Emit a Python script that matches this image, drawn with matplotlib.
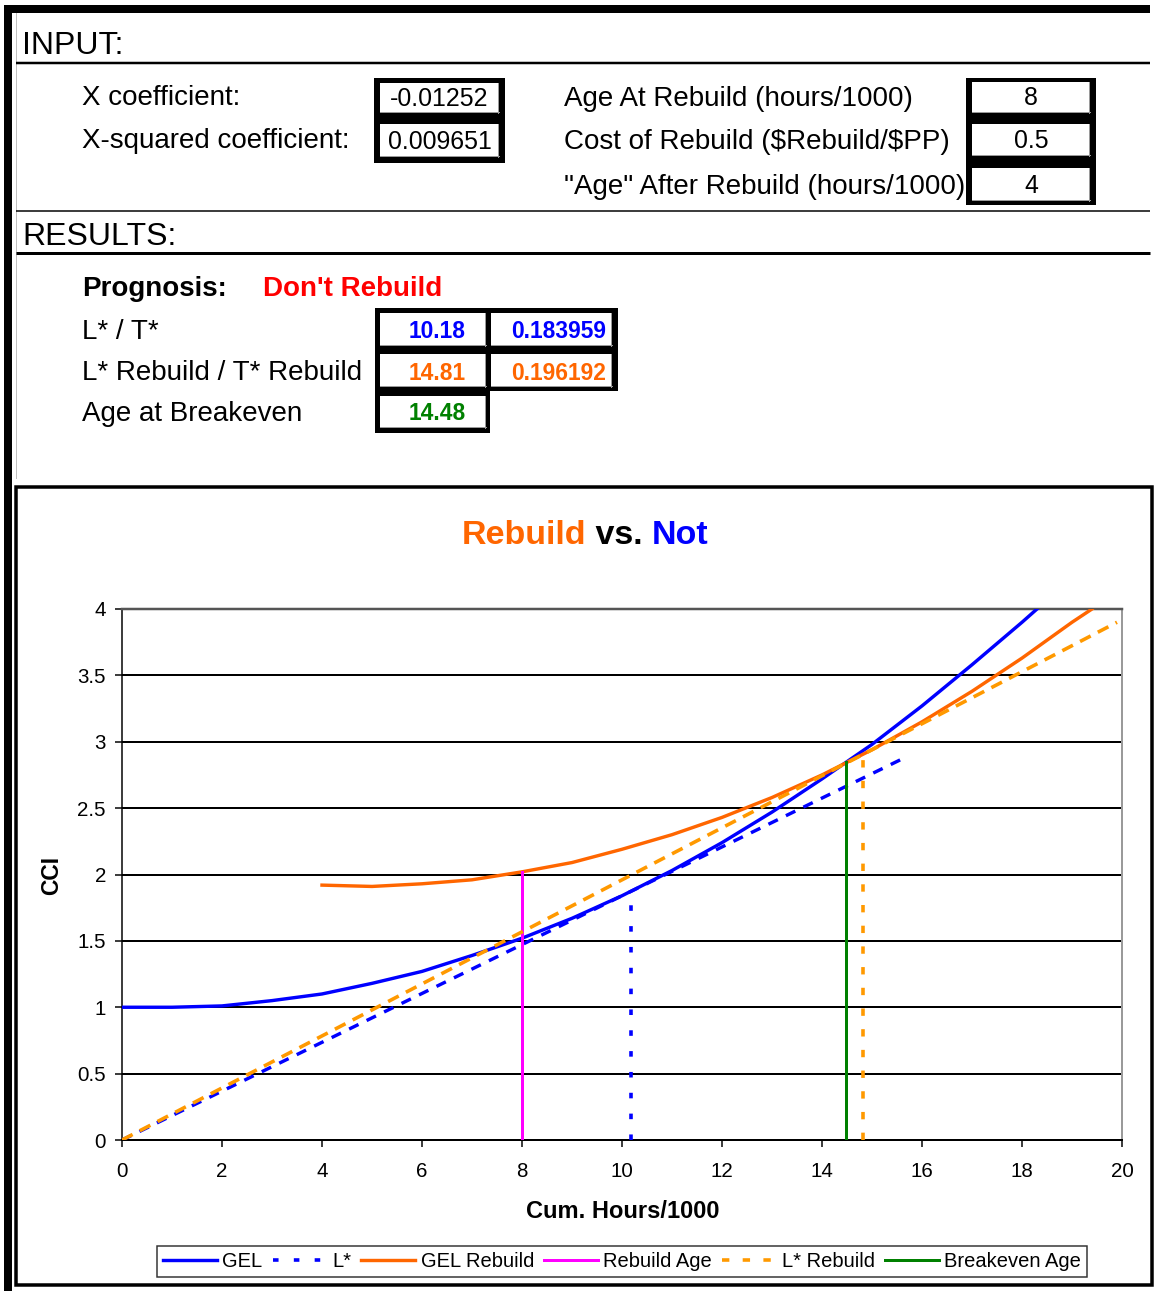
import matplotlib
matplotlib.use("Agg")
import matplotlib.pyplot as plt
from matplotlib.patches import Rectangle

plt.rcParams['font.family'] = ['Liberation Sans', 'DejaVu Sans']
plt.rcParams['lines.scale_dashes'] = False
plt.rcParams['text.parse_math'] = False

W, H = 1154, 1292
PX = 0.72  # points per pixel at dpi=100

# ---- spreadsheet values ----
input_left_labels = ["X coefficient:", "X-squared coefficient:"]
input_left_values = ["-0.01252", "0.009651"]
input_right_labels = ["Age At Rebuild (hours/1000)", "Cost of Rebuild ($Rebuild/$PP)",
                      '"Age" After Rebuild (hours/1000)']
input_right_values = ["8", "0.5", "4"]

prognosis = "Don't Rebuild"
result_labels = ["L* / T*", "L* Rebuild / T* Rebuild", "Age at Breakeven"]
result_l = ["10.18", "14.81", "14.48"]
result_t = ["0.183959", "0.196192", None]
result_colors = ['#0000FF', '#FF6600', '#008000']

# ---- chart series ----
gel_x = [0, 1, 2, 3, 4, 5, 6, 7, 8, 9, 10, 11, 12, 13, 14, 15, 16, 17, 18, 18.3]
gel_y = [1.00, 1.00, 1.01, 1.05, 1.10, 1.18, 1.27, 1.39, 1.52, 1.67, 1.84, 2.03,
         2.24, 2.47, 2.72, 2.98, 3.27, 3.58, 3.90, 4.00]

lstar_x = [0, 15.6]
lstar_y = [0, 2.87]

gelr_x = [4, 5, 6, 7, 8, 9, 10, 11, 12, 13, 14, 15, 16, 17, 18, 19, 19.4]
gelr_y = [1.92, 1.91, 1.93, 1.96, 2.02, 2.09, 2.19, 2.30, 2.43, 2.58, 2.75, 2.94,
          3.15, 3.38, 3.63, 3.90, 4.00]

lstar_r_x = [0, 19.9]
lstar_r_y = [0, 3.90]

rebuild_age, rebuild_top = 8, 2.02
lstar_age, lstar_top = 10.18, 1.87
breakeven_age, breakeven_top = 14.48, 2.85
lstar_r_age, lstar_r_top = 14.81, 2.90

fig = plt.figure(figsize=(W / 100, H / 100), dpi=100)
bg = fig.add_axes([0, 0, 1, 1])
bg.set_xlim(0, W)
bg.set_ylim(H, 0)
bg.axis('off')


def box(x, y, w, h, color='black'):
    bg.add_patch(Rectangle((x, y), w, h, facecolor=color, edgecolor='none'))


def hline(y, x0, x1, lw, color='black'):
    bg.plot([x0, x1], [y, y], color=color, lw=lw * PX, solid_capstyle='butt')


def cell(x, y, w, h):
    box(x, y, w, h, 'white')
    bg.plot([x + w - 1, x + w - 1], [y, y + h], color='#9a9a9a', lw=1 * PX)
    bg.plot([x, x + w], [y + h - 1, y + h - 1], color='#9a9a9a', lw=1 * PX)


# outer sheet borders
box(4, 5, 1146, 8)
box(4, 5, 8, 1286)
bg.plot([16, 16], [13, 478], color='#c0c0c0', lw=1 * PX)
hline(63, 16, 1150, 2.5)
hline(211, 16, 1150, 1.5)
hline(253, 16, 1150, 3)

bg.text(22, 46, "INPUT:", fontsize=23, va='center')
bg.text(22, 237, "RESULTS:", fontsize=23, va='center')

# input block
left_rows = [97, 140]
for lab, yy in zip(input_left_labels, left_rows):
    bg.text(82, yy + 1, lab, fontsize=20, va='center')
box(374, 78, 131, 85)
cell(380, 83, 119, 30)
cell(380, 124, 119, 33)
for val, yy in zip(input_left_values, left_rows):
    bg.text(439.5, yy + 2, val, fontsize=17.9, ha='center', va='center')

right_rows = [96, 139, 184]
for lab, yy in zip(input_right_labels, right_rows):
    bg.text(564, yy + 3, lab, fontsize=20, va='center')
box(966, 78, 130, 127)
cell(972, 82, 118, 31)
cell(972, 124, 118, 32)
cell(972, 168, 118, 33)
for val, yy in zip(input_right_values, right_rows):
    bg.text(1031, yy + 2, val, fontsize=17.9, ha='center', va='center')

# results block
bg.text(82, 289, "Prognosis:", fontsize=20, fontweight='bold', va='center')
bg.text(263, 289, prognosis, fontsize=20, fontweight='bold', color='#FF0000', va='center')
res_rows = [330, 371, 412]
for lab, yy in zip(result_labels, res_rows):
    bg.text(82, yy + 2, lab, fontsize=20, va='center')
box(375, 308, 243, 83)
box(375, 390, 115, 43)
cell(380, 313, 106, 33)
cell(491, 313, 121, 33)
cell(380, 354, 106, 33)
cell(491, 354, 121, 33)
cell(380, 396, 106, 32)
for lv, tv, col, yy in zip(result_l, result_t, result_colors, res_rows):
    bg.text(466, yy + 2, lv, fontsize=16.4, fontweight='bold', color=col, ha='right', va='center')
    if tv is not None:
        bg.text(606, yy + 2, tv, fontsize=16.4, fontweight='bold', color=col, ha='right', va='center')

# chart frame
bg.add_patch(Rectangle((15.5, 486.5), 1136, 798.5, facecolor='none',
                       edgecolor='black', lw=3.5 * PX))

# ---- chart ----
ax = fig.add_axes([122 / W, 1 - 1140 / H, 1000 / W, 531 / H])
ax.set_xlim(0, 20)
ax.set_ylim(0, 4)
ax.set_xticks(range(0, 21, 2))
yt = [0, 0.5, 1, 1.5, 2, 2.5, 3, 3.5, 4]
ax.set_yticks(yt)
ax.set_yticklabels(['0', '0.5', '1', '1.5', '2', '2.5', '3', '3.5', '4'])
for yv in yt[1:-1]:
    ax.axhline(yv, color='black', lw=2 * PX, zorder=1)
ax.spines['left'].set_linewidth(1.5 * PX)
ax.spines['bottom'].set_linewidth(2 * PX)
ax.spines['top'].set_color('#555555')
ax.spines['top'].set_linewidth(2.5 * PX)
ax.spines['right'].set_color('#9a9a9a')
ax.spines['right'].set_linewidth(2 * PX)
ax.tick_params(direction='out', length=7 * PX, width=1.5 * PX, labelsize=14.8)
ax.tick_params(axis='y', pad=9 * PX)
ax.tick_params(axis='x', pad=15 * PX)

blue, orange, magenta, lorange, green = '#0000FF', '#FF6600', '#FF00FF', '#FF9900', '#008000'
lw = 3.4 * PX

h_gel, = ax.plot(gel_x, gel_y, color=blue, lw=lw, zorder=3)
ax.plot(lstar_x, lstar_y, color=blue, lw=lw, dashes=(7.5, 6.5), zorder=4)
h_ls, = ax.plot([lstar_age, lstar_age], [0, lstar_top], color=blue, lw=3.6 * PX,
                dashes=(4, 11), zorder=4)
h_gelr, = ax.plot(gelr_x, gelr_y, color=orange, lw=lw, zorder=5)
h_reb, = ax.plot([rebuild_age, rebuild_age], [0, rebuild_top], color=magenta, lw=3 * PX, zorder=6)
ax.plot(lstar_r_x, lstar_r_y, color=lorange, lw=3.6 * PX, dashes=(8.6, 5.8), zorder=7)
h_lsr, = ax.plot([lstar_r_age, lstar_r_age], [0, lstar_r_top], color=lorange, lw=3.6 * PX,
                 dashes=(5.3, 9.6), zorder=7)
h_be, = ax.plot([breakeven_age, breakeven_age], [0, breakeven_top], color=green, lw=3 * PX, zorder=8)

bg.text(623, 1212, "Cum. Hours/1000", fontsize=17, fontweight='bold', ha='center', va='center')
bg.text(52, 875, "CCI", fontsize=16.5, fontweight='bold', rotation=90, ha='center', va='center')

leg = fig.legend([h_gel, h_ls, h_gelr, h_reb, h_lsr, h_be],
                 ["GEL", "L*", "GEL Rebuild", "Rebuild Age", "L* Rebuild", "Breakeven Age"],
                 loc='center', bbox_to_anchor=(622 / W, 1 - 1261.5 / H), ncol=6,
                 fontsize=14.5, frameon=True, fancybox=False, edgecolor='black',
                 handlelength=2.7, handletextpad=0.25, columnspacing=0.5,
                 borderpad=0.3, borderaxespad=0)
leg.get_frame().set_linewidth(1.5 * PX)

# title with coloured words
fig.canvas.draw()
r = fig.canvas.get_renderer()
parts = [("Rebuild", orange), (" vs. ", 'black'), ("Not", blue)]
texts = [bg.text(0, 535, s, fontsize=24.5, fontweight='bold', color=c, va='center')
         for s, c in parts]
widths = [t.get_window_extent(renderer=r).width for t in texts]
x0 = 585 - sum(widths) / 2
for t, wd in zip(texts, widths):
    t.set_x(x0)
    x0 += wd

fig.savefig("out.png", dpi=100)
